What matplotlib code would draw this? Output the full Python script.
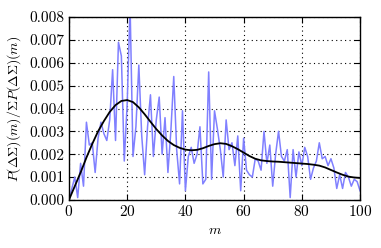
import numpy as np
import matplotlib
matplotlib.use("Agg")
import matplotlib.pyplot as plt

plt.rcParams['font.family'] = 'serif'
plt.rcParams['font.serif'] = ['cmr10']
plt.rcParams['mathtext.fontset'] = 'cm'
plt.rcParams['axes.formatter.use_mathtext'] = True

# raw distribution, one value per m = 0..100
m_raw = np.arange(0, 101)
p_raw = [
    0.0000, 0.0005, 0.0010, 0.0001, 0.0016, 0.0006, 0.0034, 0.0024, 0.0025, 0.0012,
    0.0027, 0.0034, 0.0029, 0.0026, 0.0035, 0.0057, 0.0026, 0.0069, 0.0063, 0.0017,
    0.0042, 0.0085, 0.0019, 0.0032, 0.0059, 0.0028, 0.0011, 0.0032, 0.0046, 0.0019,
    0.0035, 0.0045, 0.0020, 0.0036, 0.0012, 0.0030, 0.0054, 0.0022, 0.0007, 0.0039,
    0.0004, 0.0019, 0.0023, 0.0016, 0.0020, 0.0032, 0.0007, 0.0009, 0.0056, 0.0009,
    0.0039, 0.0031, 0.0022, 0.0010, 0.0035, 0.0022, 0.0025, 0.0015, 0.0028, 0.0004,
    0.0027, 0.0013, 0.0011, 0.0010, 0.0018, 0.0017, 0.0013, 0.0030, 0.0016, 0.0024,
    0.0006, 0.0020, 0.0030, 0.0019, 0.0017, 0.0022, 0.0001, 0.0022, 0.0010, 0.0021,
    0.0015, 0.0023, 0.0019, 0.0009, 0.0014, 0.0017, 0.0025, 0.0018, 0.0019, 0.0015,
    0.0018, 0.0014, 0.0005, 0.0011, 0.0005, 0.0012, 0.0010, 0.0006, 0.0009, 0.0008,
    0.0004,
]

# smoothed curve, read every 2 units of m
m_smooth = np.arange(0, 101, 2)
p_smooth = [
    0.00000, 0.00060, 0.00120, 0.00185, 0.00245, 0.00300, 0.00345, 0.00385, 0.00415, 0.00433,
    0.00437, 0.00428, 0.00405, 0.00375, 0.00342, 0.00310, 0.00282, 0.00258, 0.00240, 0.00228,
    0.00220, 0.00217, 0.00219, 0.00226, 0.00236, 0.00244, 0.00248, 0.00245, 0.00235, 0.00222,
    0.00207, 0.00192, 0.00180, 0.00173, 0.00170, 0.00168, 0.00167, 0.00165, 0.00163, 0.00161,
    0.00159, 0.00157, 0.00154, 0.00150, 0.00142, 0.00131, 0.00120, 0.00110, 0.00102, 0.00098,
    0.00096,
]

fig = plt.figure(figsize=(3.81, 2.48), dpi=100)
ax = fig.add_axes([0.181, 0.194, 0.764, 0.737])

ax.plot(m_raw, p_raw, color='#8080ff', lw=1.1)
ax.plot(m_smooth, p_smooth, color='black', lw=1.3)

ax.set_xlim(0, 100)
ax.set_ylim(0, 0.008)
ax.set_xticks([0, 20, 40, 60, 80, 100])
ax.set_yticks(np.arange(0, 0.0081, 0.001))
ax.set_yticklabels([f"{v:.3f}" for v in np.arange(0, 0.0081, 0.001)])
ax.grid(True, color='black', linestyle=(0, (1, 3)), linewidth=0.8)
ax.tick_params(direction='in', top=True, right=True, labelsize=11, length=4, pad=3)
for s in ax.spines.values():
    s.set_linewidth(1.0)

ax.set_xlabel(r'$m$', fontsize=10)
ax.set_ylabel(r'$P(\Delta\Sigma)(m)/\Sigma P(\Delta\Sigma)(m)$', fontsize=10, labelpad=5)

fig.savefig('out.png', dpi=100)
